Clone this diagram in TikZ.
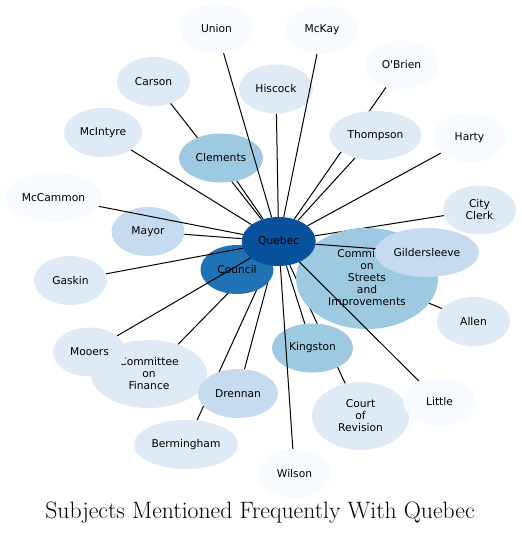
\documentclass[tikz,border=0pt]{standalone}
\usepackage{fontspec}
\newfontfamily\dejavu{DejaVu Sans}
\usetikzlibrary{shapes.geometric}
\pgfdeclarelayer{bg}
\pgfdeclarelayer{fg}
\pgfsetlayers{bg,main,fg}
\definecolor{bA}{HTML}{F7FBFF}
\definecolor{bB}{HTML}{DEEBF7}
\definecolor{bC}{HTML}{C6DBEF}
\definecolor{bD}{HTML}{9ECAE1}
\definecolor{bK}{HTML}{2171B5}
\definecolor{bQ}{HTML}{08519C}
\tikzset{
  ent/.style={ellipse, inner sep=0pt, draw=none, text=black, align=center,
    font=\dejavu\fontsize{10.7}{12}\selectfont},
  sm/.style={ent, minimum width=73pt, minimum height=49pt},
  link/.style={draw=black, line width=1pt}
}
\begin{document}
\begin{tikzpicture}[x=1pt,y=-1pt]
\useasboundingbox (0,0) rectangle (521,534);
% nodes
\node[ent, fill=bK, minimum width=73pt, minimum height=49pt] (council) at (237,269.5) {Council};
\node[ent, fill=bD, minimum width=142pt, minimum height=101pt] (streets) at (367,278.5) {Committee\\on\\Streets\\and\\Improvements};
\node[ent, fill=bB, minimum width=116pt, minimum height=68pt] (finance) at (149,374) {Committee\\on\\Finance};
\node[sm, fill=bA] (union) at (216.5,29) {Union};
\node[sm, fill=bA] (mckay) at (322,29.5) {McKay};
\node[sm, fill=bB] (carson) at (153.5,81.5) {Carson};
\node[sm, fill=bB, minimum width=74pt] (hiscock) at (276,89) {Hiscock};
\node[sm, fill=bA] (obrien) at (401.5,65) {O'Brien};
\node[sm, fill=bB, minimum width=78pt] (mcintyre) at (103,132.5) {McIntyre};
\node[sm, fill=bD, minimum width=84pt] (clements) at (221,158) {Clements};
\node[sm, fill=bB, minimum width=92pt] (thompson) at (375.5,135.5) {Thompson};
\node[sm, fill=bA] (harty) at (469.5,137.5) {Harty};
\node[sm, fill=bA, minimum width=97pt] (mccammon) at (53.5,197.5) {McCammon};
\node[sm, fill=bC] (mayor) at (148,231.5) {Mayor};
\node[sm, fill=bB] (cityclerk) at (479.5,210) {City\\Clerk};
\node[sm, fill=bB] (gaskin) at (70.5,280.5) {Gaskin};
\node[sm, fill=bC, minimum width=104pt] (gilder) at (427,252.5) {Gildersleeve};
\node[sm, fill=bB] (allen) at (473.5,321.5) {Allen};
\node[sm, fill=bB] (mooers) at (89.5,352) {Mooers};
\node[sm, fill=bD, minimum width=81pt] (kingston) at (312.5,348) {Kingston};
\node[sm, fill=bC, minimum width=80pt] (drennan) at (238,393.5) {Drennan};
\node[ent, fill=bB, minimum width=97pt, minimum height=68pt] (court) at (360.5,416) {Court\\of\\Revision};
\node[sm, fill=bA] (little) at (439.5,401.5) {Little};
\node[sm, fill=bB, minimum width=104pt] (bermingham) at (186,444.5) {Bermingham};
\node[sm, fill=bA] (wilson) at (294.5,473.5) {Wilson};
\node[sm, fill=bQ, minimum width=74pt] (quebec) at (278.7,241.5) {Quebec};
% edges below nodes
\begin{pgfonlayer}{bg}
\foreach \t in {council,streets,allen,court,carson,obrien,bermingham,finance,drennan,kingston,clements,thompson,hiscock,mayor,harty,cityclerk,mcintyre}
  \draw[link] (quebec) -- (\t);
\end{pgfonlayer}
% edges above nodes
\begin{pgfonlayer}{fg}
\foreach \t in {mooers,gaskin,little,gilder,wilson,mccammon,union,mckay}
  \draw[link] (quebec) -- (\t);
\end{pgfonlayer}
% title
\node[anchor=base, inner sep=0pt, font=\fontsize{23.7}{28}\selectfont] (title) at (260,518) {Subjects Mentioned Frequently With Quebec};
\end{tikzpicture}
\end{document}
